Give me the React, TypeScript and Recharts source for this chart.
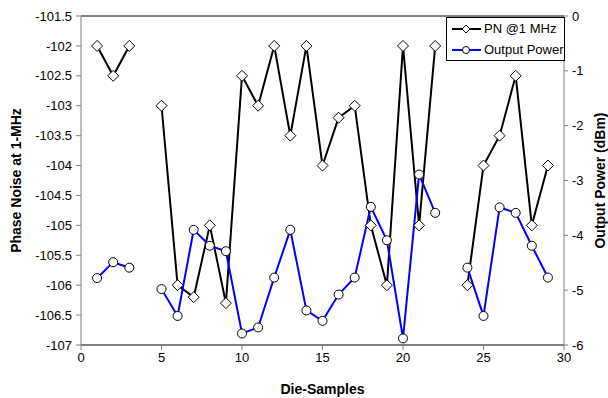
import { LineChart, Line, XAxis, YAxis, CartesianGrid, Legend, ReferenceLine } from 'recharts';

// die sample index, gaps (null) where a die was not measured
const samples = [1, 2, 3, 4, 5, 6, 7, 8, 9, 10, 11, 12, 13, 14, 15, 16, 17, 18, 19, 20, 21, 22, 23, 24, 25, 26, 27, 28, 29];
const pnValues = [-102, -102.5, -102, null, -103, -106, -106.2, -105, -106.3, -102.5, -103, -102, -103.5, -102, -104, -103.2, -103, -105, -106, -102, -105, -102, null, -106, -104, -103.5, -102.5, -105, -104];
const powerValues = [-4.78, -4.49, -4.59, null, -4.98, -5.47, -3.9, -4.19, -4.29, -5.79, -5.68, -4.77, -3.9, -5.37, -5.56, -5.08, -4.77, -3.48, -4.09, -5.88, -2.89, -3.59, null, -4.59, -5.47, -3.49, -3.59, -4.19, -4.77];

const xTicks = [0, 5, 10, 15, 20, 25, 30];
const pnTicks = [-107, -106.5, -106, -105.5, -105, -104.5, -104, -103.5, -103, -102.5, -102, -101.5];
const powerTicks = [-6, -5, -4, -3, -2, -1, 0];

const data = samples.map((s, i) => ({ sample: s, pn: pnValues[i], power: powerValues[i] }));

const FONT = '"Liberation Sans", Arial, sans-serif';
const AXIS_GRAY = '#808080';

const Diamond = (props: any) => {
    const { cx, cy, value } = props;
    if (value == null || cx == null || cy == null) return <g />;
    return (
        <path
            d={`M${cx},${cy - 5.5} L${cx + 5.5},${cy} L${cx},${cy + 5.5} L${cx - 5.5},${cy} Z`}
            fill="#fff"
            stroke="#000"
            strokeWidth={1}
        />
    );
};

const Circle = (props: any) => {
    const { cx, cy, value } = props;
    if (value == null || cx == null || cy == null) return <g />;
    return <circle cx={cx} cy={cy} r={4.5} fill="#fff" stroke="#000" strokeWidth={1} />;
};

const LegendBox = () => {
    const rows = [
        { name: 'PN @1 MHz', color: '#000', marker: 'diamond' },
        { name: 'Output Power', color: '#0000ff', marker: 'circle' },
    ];
    return (
        <div style={{ border: '1px solid #000', background: '#fff', width: 117, height: 42, fontFamily: FONT, fontSize: 13 }}>
            {rows.map((r) => (
                <div key={r.name} style={{ display: 'flex', alignItems: 'center', height: 21 }}>
                    <svg width={33} height={12} style={{ marginLeft: 3 }}>
                        <line x1={2} y1={6} x2={31} y2={6} stroke={r.color} strokeWidth={2} />
                        {r.marker === 'diamond' ? (
                            <path d="M16,2 L20,6 L16,10 L12,6 Z" fill="#fff" stroke="#000" strokeWidth={1} />
                        ) : (
                            <circle cx={16} cy={6} r={3.5} fill="#fff" stroke="#000" strokeWidth={1} />
                        )}
                    </svg>
                    <span style={{ marginLeft: 1, color: '#000' }}>{r.name}</span>
                </div>
            ))}
        </div>
    );
};

export default function App() {
    return (
        <div style={{ position: 'absolute', left: 0, top: 0, background: '#fff' }}>
            <LineChart width={608} height={398} data={data} margin={{ top: 16, right: 0, bottom: 0, left: 0 }}>
                <CartesianGrid horizontal vertical={false} stroke="#000" strokeWidth={1} />
                <XAxis
                    dataKey="sample"
                    type="number"
                    domain={[0, 30]}
                    ticks={xTicks}
                    height={53}
                    axisLine={{ stroke: AXIS_GRAY }}
                    tickLine={{ stroke: AXIS_GRAY }}
                    tickSize={5}
                    tickMargin={3}
                    tick={{ fill: '#000', fontSize: 13, fontFamily: FONT }}
                    label={{ value: 'Die-Samples', position: 'insideBottom', offset: 4, fill: '#000', fontSize: 14, fontWeight: 'bold', fontFamily: FONT }}
                />
                <YAxis
                    yAxisId="left"
                    domain={[-107, -101.5]}
                    ticks={pnTicks}
                    width={81}
                    axisLine={{ stroke: AXIS_GRAY }}
                    tickLine={{ stroke: AXIS_GRAY }}
                    tickSize={5}
                    tickMargin={4}
                    interval={0}
                    tick={{ fill: '#000', fontSize: 13, fontFamily: FONT }}
                    label={{ value: 'Phase Noise at 1-MHz', angle: -90, position: 'insideLeft', offset: 16, textAnchor: 'middle', fill: '#000', fontSize: 14, fontWeight: 'bold', fontFamily: FONT }}
                />
                <YAxis
                    yAxisId="right"
                    orientation="right"
                    domain={[-6, 0]}
                    ticks={powerTicks}
                    width={44}
                    axisLine={{ stroke: AXIS_GRAY }}
                    tickLine={{ stroke: AXIS_GRAY }}
                    tickSize={4}
                    tickMargin={4}
                    interval={0}
                    tick={{ fill: '#000', fontSize: 13, fontFamily: FONT }}
                    label={{ value: 'Output Power (dBm)', angle: -90, position: 'insideRight', offset: 8, textAnchor: 'middle', fill: '#000', fontSize: 14, fontWeight: 'bold', fontFamily: FONT }}
                />
                <ReferenceLine yAxisId="left" y={-101.5} stroke={AXIS_GRAY} strokeWidth={1} />
                <Legend
                    layout="vertical"
                    align="center"
                    verticalAlign="middle"
                    content={<LegendBox />}
                    wrapperStyle={{ left: 446, top: 17, width: 119, height: 44 }}
                />
                <Line
                    yAxisId="left"
                    dataKey="pn"
                    name="PN @1 MHz"
                    stroke="#000"
                    strokeWidth={2}
                    dot={<Diamond />}
                    activeDot={false}
                    connectNulls={false}
                    isAnimationActive={false}
                />
                <Line
                    yAxisId="right"
                    dataKey="power"
                    name="Output Power"
                    stroke="#0000ff"
                    strokeWidth={2}
                    dot={<Circle />}
                    activeDot={false}
                    connectNulls={false}
                    isAnimationActive={false}
                />
            </LineChart>
        </div>
    );
}
